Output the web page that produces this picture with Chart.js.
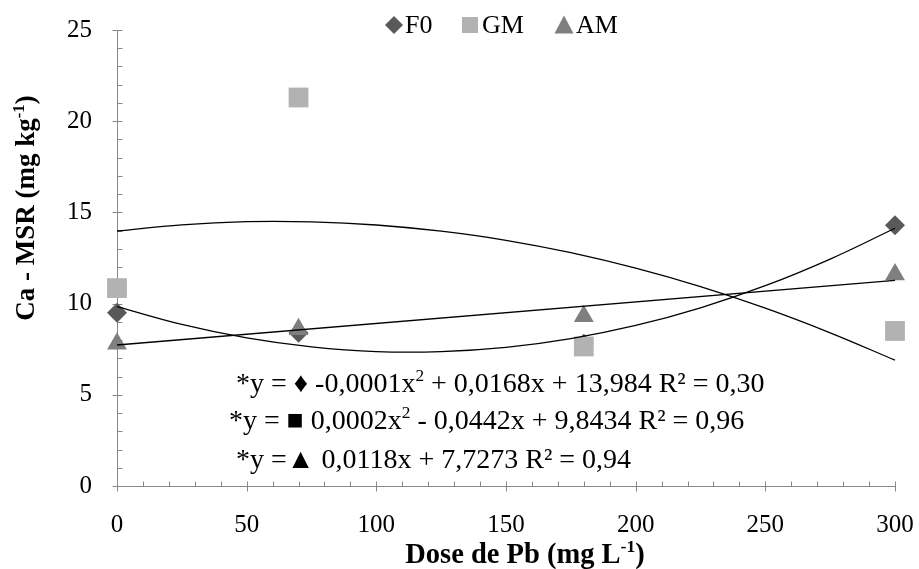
<!DOCTYPE html>
<html>
<head>
<meta charset="utf-8">
<script src="https://cdn.jsdelivr.net/npm/chart.js@4/dist/chart.umd.min.js"></script>
<style>
  body { margin: 0; background: #fff; }
  canvas { display: block; }
</style>
</head>
<body>
<canvas id="chart" width="919" height="569"></canvas>
<script>
// Dose de Pb (mg L-1)
const doses = [0, 70, 180, 300]
const f0Values = [9.5, 8.4, 7.8, 14.3]
const gmValues = [10.85, 21.3, 7.65, 8.5]
const amValues = [7.8, 8.6, 9.3, 11.6]

// trend lines
const curveX = [0, 25, 50, 75, 100, 125, 150, 175, 200, 225, 250, 275, 300]
const gmCurve = [13.98, 14.32, 14.49, 14.48, 14.31, 13.97, 13.47, 12.79, 11.94, 10.93, 9.75, 8.4, 6.9]
const f0Curve = [9.84, 8.86, 8.12, 7.63, 7.37, 7.37, 7.6, 8.08, 8.8, 9.77, 10.98, 12.44, 14.13]
const amLineX = [0, 300]
const amLine = [7.73, 11.27]

const xTicks = [0, 50, 100, 150, 200, 250, 300]
const yTicks = [0, 5, 10, 15, 20, 25]

const equations = [
    [{t: '*y = \u2666 -0,0001x'}, {t: '2', sup: true}, {t: ' + 0,0168x + 13,984 R\u00b2 = 0,30'}],
    [{t: '*y = \u25a0 0,0002x'}, {t: '2', sup: true}, {t: ' - 0,0442x + 9,8434 R\u00b2 = 0,96'}],
    [{t: '*y =\u25b2 0,0118x + 7,7273 R\u00b2 = 0,94'}]
]

const SERIF = '"Liberation Serif", "Times New Roman", serif'
const AXIS_GREY = '#898989'

const toPoints = (xs, ys) => xs.map((x, i) => ({x: x, y: ys[i]}))

function drawRich(ctx, parts, x, y, size, bold, align) {
    const weight = bold ? 'bold ' : ''
    const widths = parts.map(p => {
        ctx.font = weight + (p.sup ? size * 0.62 : size) + 'px ' + SERIF
        return ctx.measureText(p.t).width
    })
    const total = widths.reduce((a, b) => a + b, 0)
    let cx = align == 'left' ? x : x - total / 2
    ctx.textAlign = 'left'
    ctx.textBaseline = 'alphabetic'
    parts.forEach((p, i) => {
        ctx.font = weight + (p.sup ? size * 0.62 : size) + 'px ' + SERIF
        ctx.fillText(p.t, cx, p.sup ? y - size * 0.38 : y)
        cx += widths[i]
    })
}

function marker(ctx, style, x, y, r, color) {
    ctx.fillStyle = color
    ctx.beginPath()
    if (style == 'diamond') {
        ctx.moveTo(x, y - r); ctx.lineTo(x + r, y); ctx.lineTo(x, y + r); ctx.lineTo(x - r, y)
    } else if (style == 'square') {
        ctx.rect(x - r, y - r, 2 * r, 2 * r)
    } else {
        ctx.moveTo(x, y - r); ctx.lineTo(x + r, y + r * 0.9); ctx.lineTo(x - r, y + r * 0.9)
    }
    ctx.closePath()
    ctx.fill()
}

const axesPlugin = {
    id: 'excelAxes',
    beforeDatasetsDraw(chart) {
        const {ctx, chartArea, scales} = chart
        const xs = scales.x, ys = scales.y
        ctx.save()
        ctx.strokeStyle = AXIS_GREY
        ctx.lineWidth = 1
        ctx.beginPath()
        const ax = Math.round(xs.getPixelForValue(0)) + 0.5
        const ay = Math.round(ys.getPixelForValue(0)) + 0.5
        ctx.moveTo(ax, chartArea.top); ctx.lineTo(ax, ay)
        ctx.moveTo(ax, ay); ctx.lineTo(Math.round(xs.getPixelForValue(300)) + 0.5, ay)
        // y ticks: major cross the axis, minor inside
        for (let v = 0; v <= 25; v += 1) {
            const py = Math.round(ys.getPixelForValue(v)) + 0.5
            if (v % 5 == 0) { ctx.moveTo(ax - 5, py); ctx.lineTo(ax + 5, py) }
            else { ctx.moveTo(ax, py); ctx.lineTo(ax + 5, py) }
        }
        for (let v = 0; v <= 300; v += 10) {
            const px = Math.round(xs.getPixelForValue(v)) + 0.5
            if (v % 50 == 0) { ctx.moveTo(px, ay - 5); ctx.lineTo(px, ay + 5) }
            else { ctx.moveTo(px, ay - 5); ctx.lineTo(px, ay) }
        }
        ctx.stroke()
        ctx.restore()
    },
    afterDraw(chart) {
        const {ctx} = chart
        ctx.save()
        ctx.fillStyle = '#000'
        // equations (left aligned like the text box in the original)
        const eqX = [236, 229, 236]
        const eqY = [392, 429, 468]
        equations.forEach((line, i) => {
            drawRich(ctx, line, eqX[i], eqY[i], 28, false, 'left')
        })
        // x title
        drawRich(ctx, [{t: 'Dose de Pb (mg L'}, {t: '-1', sup: true}, {t: ')'}], 525, 563, 28.5, true, 'center')
        // y title
        ctx.translate(34, 208)
        ctx.rotate(-Math.PI / 2)
        drawRich(ctx, [{t: 'Ca - MSR (mg kg'}, {t: '-1', sup: true}, {t: ')'}], 0, 0, 27, true, 'center')
        ctx.restore()

        // legend
        ctx.save()
        ctx.font = '26px ' + SERIF
        ctx.textBaseline = 'alphabetic'
        ctx.textAlign = 'left'
        const items = [
            {style: 'diamond', r: 9, color: '#595959', label: 'F0', mx: 394, tx: 405},
            {style: 'square', r: 8, color: '#b2b2b2', label: 'GM', mx: 470, tx: 482},
            {style: 'triangle', r: 9.5, color: '#7f7f7f', label: 'AM', mx: 564, tx: 576}
        ]
        items.forEach(it => {
            marker(ctx, it.style, it.mx, 25, it.r, it.color)
            ctx.fillStyle = '#000'
            ctx.fillText(it.label, it.tx, 33)
        })
        ctx.restore()
    }
}

const lineStyle = {
    type: 'line', borderColor: '#000', borderWidth: 1.3, pointRadius: 0,
    tension: 0.4, fill: false, order: 1, clip: false
}

new Chart(document.getElementById('chart'), {
    type: 'scatter',
    data: {
        datasets: [
            {label: 'F0', data: toPoints(doses, f0Values), pointStyle: 'rectRot', pointRadius: 10,
                backgroundColor: '#595959', borderWidth: 0, order: 6, clip: false},
            {label: 'GM', data: toPoints(doses, gmValues), pointStyle: 'rect', pointRadius: 14,
                backgroundColor: '#b2b2b2', borderWidth: 0, order: 5, clip: false},
            {label: 'AM', data: toPoints(doses, amValues), pointStyle: 'triangle', pointRadius: 11.5,
                backgroundColor: '#7f7f7f', borderWidth: 0, order: 4, clip: false},
            {...lineStyle, label: 'F0 trend', data: toPoints(curveX, f0Curve)},
            {...lineStyle, label: 'GM trend', data: toPoints(curveX, gmCurve)},
            {...lineStyle, label: 'AM trend', data: toPoints(amLineX, amLine), tension: 0}
        ]
    },
    options: {
        responsive: false,
        animation: false,
        devicePixelRatio: 1,
        layout: {padding: {left: 0, right: 24, top: 30, bottom: 0}},
        plugins: {legend: {display: false}, tooltip: {enabled: false}},
        scales: {
            x: {
                type: 'linear', min: 0, max: 300,
                afterBuildTicks: s => { s.ticks = xTicks.map(v => ({value: v})) },
                afterFit: s => { s.height = 83; s.paddingLeft = 0; s.paddingRight = 0 },
                grid: {display: false, drawTicks: false},
                border: {display: false},
                ticks: {color: '#000', padding: 24, font: {family: SERIF, size: 25}}
            },
            y: {
                min: 0, max: 25,
                afterBuildTicks: s => { s.ticks = yTicks.map(v => ({value: v})) },
                afterFit: s => { s.width = 117; s.paddingTop = 0; s.paddingBottom = 0 },
                grid: {display: false, drawTicks: false},
                border: {display: false},
                ticks: {color: '#000', padding: 25, font: {family: SERIF, size: 25}}
            }
        }
    },
    plugins: [axesPlugin]
})
</script>
</body>
</html>
